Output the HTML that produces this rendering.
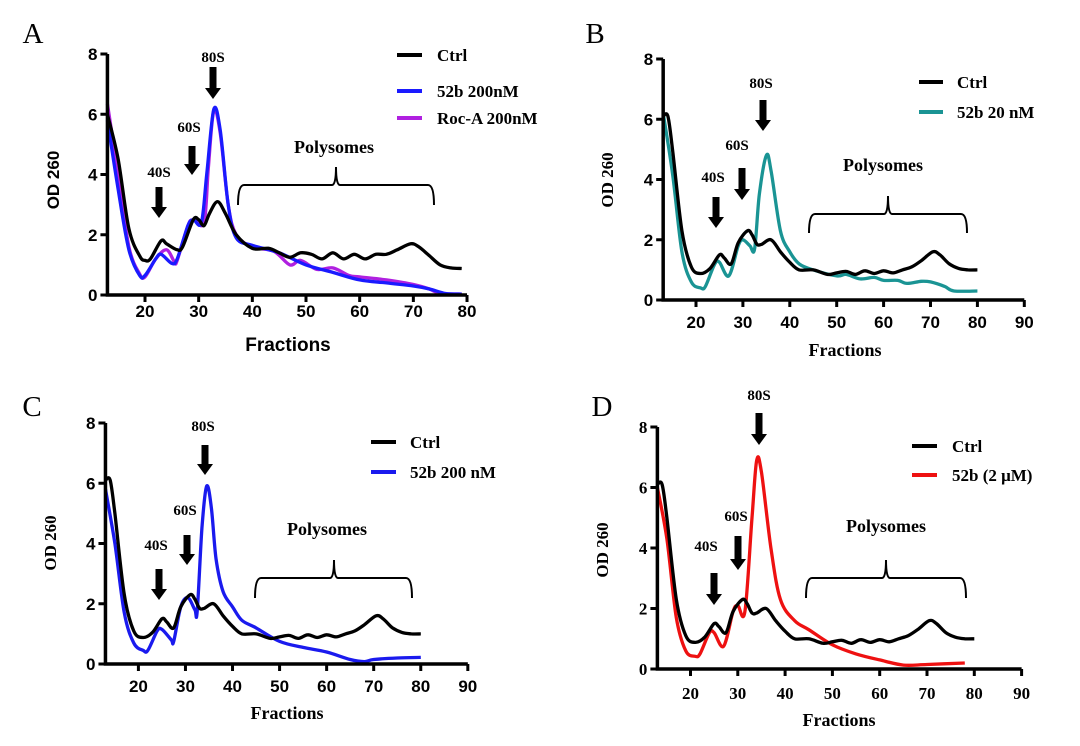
<!DOCTYPE html>
<html><head><meta charset="utf-8"><style>
html,body{margin:0;padding:0;background:#fff;}
svg{display:block;}
.s{font-family:"Liberation Sans",Arial,sans-serif;font-weight:bold;}
.r{font-family:"Liberation Serif","Times New Roman",serif;font-weight:bold;}
</style></head><body>
<svg id="c" width="1080" height="746" viewBox="0 0 1080 746" xmlns="http://www.w3.org/2000/svg"></svg>
<script>
const svg=document.getElementById('c');
let out='';
function cr(pts){
  let d='M'+pts[0][0].toFixed(1)+','+pts[0][1].toFixed(1);
  for(let i=0;i<pts.length-1;i++){
    const p0=pts[Math.max(i-1,0)],p1=pts[i],p2=pts[i+1],p3=pts[Math.min(i+2,pts.length-1)];
    const c1=[p1[0]+(p2[0]-p0[0])/6,p1[1]+(p2[1]-p0[1])/6];
    const c2=[p2[0]-(p3[0]-p1[0])/6,p2[1]-(p3[1]-p1[1])/6];
    d+=' C'+c1[0].toFixed(1)+','+c1[1].toFixed(1)+' '+c2[0].toFixed(1)+','+c2[1].toFixed(1)+' '+p2[0].toFixed(1)+','+p2[1].toFixed(1);
  }
  return d;
}
function arrow(x,y1,y2){
  const hh=11;
  out+=`<rect x="${x-3.5}" y="${y1}" width="7" height="${y2-y1-hh}" fill="#000"/>`;
  out+=`<polygon points="${x-8},${y2-hh} ${x+8},${y2-hh} ${x},${y2}" fill="#000"/>`;
}
function brace(x1,x2,yt,ye,px,py){
  out+=`<path d="M${x1},${ye} Q${x1},${yt} ${x1+6},${yt} L${px-4},${yt} Q${px},${yt} ${px},${py} Q${px},${yt} ${px+4},${yt} L${x2-6},${yt} Q${x2},${yt} ${x2},${ye}" fill="none" stroke="#000" stroke-width="2"/>`;
}
function panel(c){
  const X=f=>c.x20+(f-20)*c.ux, Y=v=>c.y0-v*(c.y0-c.y8)/8;
  const tf=c.tickSerif?'r':'s', lf=c.labSerif?'r':'s';
  c.series.slice().reverse().forEach(s=>{
    out+=`<path d="${cr(s.d.map(p=>[X(p[0]),Y(p[1])]))}" fill="none" stroke="${s.col}" stroke-width="3.3" stroke-linejoin="round"/>`;
  });
  const xe=X(c.xmax);
  out+=`<path d="M${X(13)},${Y(8)} L${X(13)},${c.y0} L${xe},${c.y0}" fill="none" stroke="#000" stroke-width="3.5"/>`;
  for(let v=0;v<=8;v+=2){out+=`<line x1="${X(13)-7}" x2="${X(13)}" y1="${Y(v)}" y2="${Y(v)}" stroke="#000" stroke-width="3"/>`;
    out+=`<text class="${tf}" x="${X(13)-10}" y="${Y(v)+6}" font-size="17" text-anchor="end">${v}</text>`;}
  for(let f=20;f<=c.xmax;f+=10){out+=`<line x1="${X(f)}" x2="${X(f)}" y1="${c.y0}" y2="${c.y0+7}" stroke="#000" stroke-width="3"/>`;
    out+=`<text class="${tf}" x="${X(f)}" y="${c.tickY+6}" font-size="17" text-anchor="middle">${f}</text>`;}
  out+=`<text class="${lf}" x="${c.fx}" y="${c.fy+6}" font-size="${c.labSerif?18:19}" text-anchor="middle">Fractions</text>`;
  out+=`<text class="${lf}" transform="translate(${c.odx+6},${c.ody}) rotate(-90)" font-size="17" text-anchor="middle">OD 260</text>`;
  out+=`<text font-family="Liberation Serif,serif" x="${c.L[0]}" y="${c.L[1]+10}" font-size="29" text-anchor="middle">${c.L[2]}</text>`;
  c.series.forEach((s,i)=>{
    const ly=c.leg.y[i];
    out+=`<line x1="${c.leg.x1}" x2="${c.leg.x2}" y1="${ly}" y2="${ly}" stroke="${s.col}" stroke-width="4"/>`;
    out+=`<text class="r" x="${c.leg.tx}" y="${ly+6}" font-size="17">${s.name}</text>`;
  });
  const a=c.ann;
  [['40S',a.s40],['60S',a.s60],['80S',a.s80]].forEach(([t,q])=>{
    out+=`<text class="r" x="${q[0]}" y="${q[1]+5}" font-size="15" text-anchor="middle">${t}</text>`;
    arrow(q[2],q[3],q[4]);
  });
  out+=`<text class="r" x="${a.poly[0]}" y="${a.poly[1]+6}" font-size="18" text-anchor="middle">Polysomes</text>`;
  brace(...a.br);
}
const ctrlBCD=[[13,6.1],[14,6.1],[15,5],[17,2.3],[19,1.1],[21,0.88],[23,1.05],[25,1.5],[26,1.4],[27.5,1.2],[29,1.9],[31,2.3],[32,2.15],[33,1.85],[34,1.85],[36,2.0],[38,1.6],[40,1.25],[42,1.0],[45,1.0],[48,0.85],[50,0.9],[52,0.95],[54,0.85],[56,0.97],[58,0.88],[60,0.97],[62,0.9],[64,1.0],[66,1.1],[68,1.3],[70.5,1.6],[72,1.5],[74,1.2],[76,1.05],[78,1.0],[80,1.0]];
panel({x20:145,ux:5.367,y0:295,y8:54,xmax:80,tickY:311,tickSerif:false,labSerif:false,fx:288,fy:345,odx:53,ody:180,L:[33,33,'A'],
 leg:{x1:397,x2:422,tx:437,y:[55,91,118]},
 series:[
 {name:'Ctrl',col:'#000',d:[[13,6],[15,4.5],[17,2.2],[19,1.3],[20,1.15],[21,1.2],[23,1.8],[24,1.7],[26,1.5],[27,1.6],[29,2.5],[30,2.5],[31,2.3],[32,2.7],[33.5,3.1],[35,2.7],[37,2.0],[40,1.55],[43,1.55],[45,1.4],[47,1.25],[49,1.4],[51,1.35],[53,1.2],[55,1.4],[57,1.2],[59,1.35],[61,1.2],[63,1.35],[65,1.35],[67,1.5],[69.5,1.7],[71,1.6],[73,1.3],[75,1.0],[77,0.9],[79,0.88]]},
 {name:'52b 200nM',col:'#1a1aff',d:[[13,5.8],[15,3.5],[17,1.5],[19,0.65],[20,0.65],[22,1.2],[23,1.35],[25,1.05],[26,1.2],[28,2.3],[29,2.5],[30.5,2.4],[31.5,4],[32.8,6.15],[34,5.5],[35.5,3],[37,1.9],[40,1.65],[45,1.4],[50,1.0],[55,0.75],[60,0.5],[65,0.4],[70,0.3],[73,0.2],[76,0.05],[79,0.03]]},
 {name:'Roc-A 200nM',col:'#b020e0',d:[[13,6.35],[15,4],[17,1.6],[19,0.7],[20,0.6],[22,1.2],[24,1.5],[25.5,1.1],[26,1.15],[28,2.3],[29,2.5],[31,2.4],[31.8,4.2],[32.8,6.1],[34,5.4],[35.5,3],[37,2.0],[40,1.6],[44,1.45],[47,1.0],[49,1.15],[52,0.85],[55,0.9],[58,0.65],[60,0.6],[65,0.5],[70,0.35],[73,0.2],[75,0.05],[79,0.03]]}
 ],
 ann:{s40:[159,172,159,187,218],s60:[189,127,192,146,175],s80:[213,57,213,67,99],poly:[334,147],br:[238,434,185,205,336,167]}
});
panel({x20:696,ux:4.69,y0:300,y8:59,xmax:90,tickY:322,tickSerif:false,labSerif:true,fx:845,fy:350,odx:607,ody:180,L:[595,33,'B'],
 leg:{x1:919,x2:943,tx:957,y:[82,112]},
 series:[{name:'Ctrl',col:'#000',d:ctrlBCD},
 {name:'52b 20 nM',col:'#1a9494',d:[[13,6.2],[15,4.2],[17,1.6],[19,0.6],[21,0.4],[22,0.45],[24,1.2],[25,1.25],[27,0.8],[29,1.8],[30,2.0],[31.5,1.8],[32.5,1.7],[33.5,3.5],[35,4.8],[36,4.3],[38,2.3],[40,1.6],[42,1.2],[45,1.0],[50,0.8],[52,0.85],[55,0.7],[58,0.75],[60,0.65],[63,0.65],[65,0.55],[68,0.62],[70,0.6],[73,0.45],[75,0.3],[80,0.3]]}],
 ann:{s40:[713,177,716,197,228],s60:[737,145,742,168,200],s80:[761,83,763,100,131],poly:[883,165],br:[809,967,214,233,888,196]}
});
panel({x20:138.4,ux:4.706,y0:664,y8:423,xmax:90,tickY:686,tickSerif:false,labSerif:true,fx:287,fy:713,odx:50,ody:543,L:[32,406,'C'],
 leg:{x1:371,x2:396,tx:410,y:[442,472]},
 series:[{name:'Ctrl',col:'#000',d:ctrlBCD},
 {name:'52b 200 nM',col:'#1a1aee',d:[[13,5.8],[15,4],[17,1.7],[19,0.7],[21,0.45],[22,0.45],[24,1.1],[25,1.15],[27,0.8],[27.5,0.75],[29,1.9],[30.5,2.2],[32,1.8],[32.5,1.75],[33.5,4.5],[34.5,5.9],[35.5,5.2],[36.5,3.5],[38,2.4],[40,1.9],[42,1.45],[45,1.2],[50,0.75],[55,0.55],[60,0.4],[65,0.15],[68,0.08],[70,0.15],[75,0.2],[80,0.22]]}],
 ann:{s40:[156,545,159,569,600],s60:[185,510,187,535,565],s80:[203,426,205,445,475],poly:[327,529],br:[255,412,578,598,334,560]}
});
panel({x20:690.5,ux:4.73,y0:669,y8:427,xmax:90,tickY:693,tickSerif:true,labSerif:true,fx:839,fy:720,odx:602,ody:550,L:[602,406,'D'],
 leg:{x1:912,x2:937,tx:952,y:[446,475]},
 series:[{name:'Ctrl',col:'#000',d:ctrlBCD},
 {name:'52b (2 μM)',col:'#ee1111',d:[[13,6],[15,4.3],[17,1.7],[19,0.6],[21,0.42],[22,0.5],[24,1.2],[25,1.2],[27,0.75],[29,1.9],[30,2.1],[31.5,1.9],[33,5],[34,6.9],[35,6.5],[37,4],[39,2.3],[42,1.6],[45,1.3],[50,0.8],[55,0.5],[60,0.3],[65,0.13],[70,0.15],[78,0.2]]}],
 ann:{s40:[706,546,714,573,605],s60:[736,516,738,536,570],s80:[759,395,759,413,445],poly:[886,526],br:[806,966,578,598,886,560]}
});
svg.innerHTML=out;
</script>
</body></html>
